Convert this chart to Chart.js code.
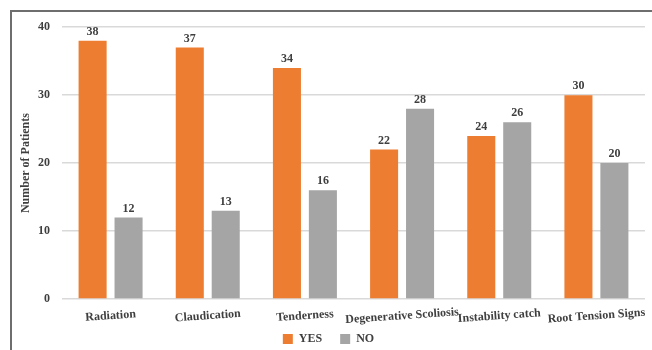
<!DOCTYPE html>
<html>
<head>
<meta charset="utf-8">
<script src="https://cdn.jsdelivr.net/npm/chart.js@4"></script>
<style>
  html, body { margin: 0; padding: 0; background: #fff; overflow: hidden; }
  #frame {
    position: absolute; left: 10px; top: 10px; width: 642px; height: 340px;
    border-top: 2px solid #6e6e6e; border-left: 2px solid #6e6e6e;
    box-sizing: border-box;
  }
  #wrap { position: absolute; left: 12px; top: 8px; width: 640px; height: 347px; }
</style>
</head>
<body>
<div id="frame"></div>
<div id="wrap"><canvas id="chart"></canvas></div>
<script>
// categories and counts
const categories = ['Radiation', 'Claudication', 'Tenderness', 'Degenerative Scoliosis', 'Instability catch', 'Root Tension Signs'];
const yesValues = [38, 37, 34, 22, 24, 30];
const noValues = [12, 13, 16, 28, 26, 20];
const yTicks = [0, 10, 20, 30, 40];

const ORANGE = '#ED7D31';
const GREY = '#A5A5A5';
const TEXT = '#3f3f3f';
const SERIF = '"Liberation Serif", "Times New Roman", serif';

// value labels above each bar
const barLabels = {
  id: 'barLabels',
  afterDatasetsDraw(chart) {
    const ctx = chart.ctx;
    ctx.save();
    ctx.font = 'bold 12px ' + SERIF;
    ctx.fillStyle = TEXT;
    ctx.textAlign = 'center';
    ctx.textBaseline = 'bottom';
    chart.data.datasets.forEach((ds, i) => {
      chart.getDatasetMeta(i).data.forEach((bar, j) => {
        ctx.fillText(ds.data[j], bar.x, bar.y - 3);
      });
    });
    ctx.restore();
  }
};

// category labels, slightly tilted like the original
const tiltedLabels = {
  id: 'tiltedLabels',
  afterDraw(chart) {
    const ctx = chart.ctx;
    const xs = chart.scales.x;
    ctx.save();
    ctx.font = 'bold 12px ' + SERIF;
    ctx.fillStyle = TEXT;
    ctx.textAlign = 'center';
    ctx.textBaseline = 'middle';
    categories.forEach((c, i) => {
      ctx.save();
      ctx.translate(xs.getPixelForTick(i), chart.chartArea.bottom + 17);
      ctx.rotate(-4 * Math.PI / 180);
      ctx.fillText(c, 0, 0);
      ctx.restore();
    });
    ctx.restore();
  }
};

new Chart(document.getElementById('chart'), {
  type: 'bar',
  data: {
    labels: categories,
    datasets: [
      { label: 'YES', data: yesValues, backgroundColor: ORANGE },
      { label: 'NO', data: noValues, backgroundColor: GREY }
    ]
  },
  options: {
    responsive: true,
    maintainAspectRatio: false,
    animation: false,
    layout: { padding: { top: 8, right: 7, left: 0, bottom: 0 } },
    datasets: { bar: { categoryPercentage: 0.74, barPercentage: 0.78 } },
    plugins: {
      tooltip: { enabled: false },
      legend: {
        position: 'bottom',
        labels: {
          boxWidth: 10, boxHeight: 10, padding: 18,
          color: TEXT,
          font: { family: SERIF, size: 12, weight: 'bold' }
        }
      }
    },
    scales: {
      x: {
        grid: { display: false },
        border: { display: false },
        ticks: { display: false },
        afterFit(scale) { scale.height = 16; }
      },
      y: {
        min: 0, max: 40,
        afterBuildTicks(scale) { scale.ticks = yTicks.map(v => ({ value: v })); },
        afterFit(scale) { scale.width = 50; },
        grid: { color: '#d9d9d9', lineWidth: 1.5, drawTicks: false },
        border: { display: false },
        ticks: {
          padding: 12, color: TEXT,
          font: { family: SERIF, size: 12, weight: 'bold' }
        },
        title: {
          display: true, text: 'Number of Patients', color: TEXT,
          padding: { top: 7, bottom: 4 },
          font: { family: SERIF, size: 12, weight: 'bold' }
        }
      }
    }
  },
  plugins: [barLabels, tiltedLabels]
});
</script>
</body>
</html>
